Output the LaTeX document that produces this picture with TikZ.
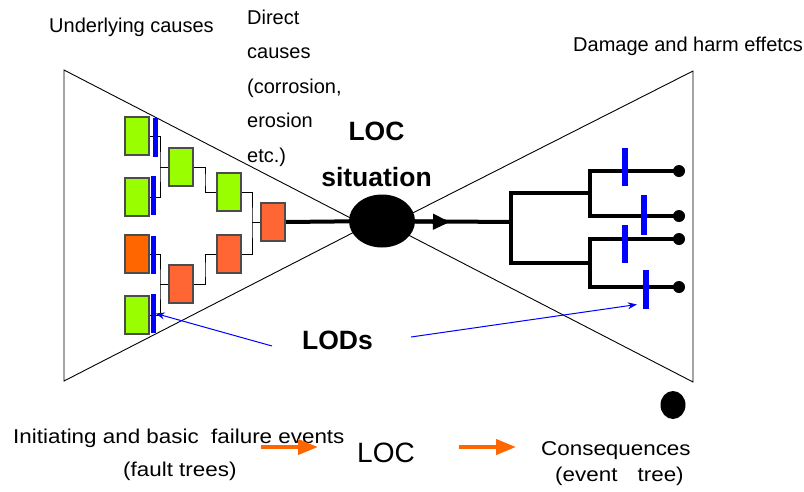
\documentclass[tikz,border=0pt]{standalone}
\usepackage{fontspec}
\setmainfont{Liberation Sans}
\usetikzlibrary{shapes.geometric,arrows.meta,backgrounds,calc}
\definecolor{leafgreen}{HTML}{99FF00}
\definecolor{hotorange}{HTML}{FF6600}
\definecolor{softorange}{HTML}{FF6633}
\definecolor{lodblue}{HTML}{0000FF}

\begin{document}
\begin{tikzpicture}[x=1pt,y=-1pt,
  evbox/.style={draw=black!70, line width=1.1pt, minimum width=24pt, minimum height=38pt, inner sep=0pt},
  lodbar/.style={fill=lodblue, inner sep=0pt, minimum width=5pt, minimum height=39pt},
  rbar/.style={fill=lodblue, inner sep=0pt, minimum width=6pt, minimum height=38pt},
  link/.style={line width=1pt},
  branch/.style={line width=4pt},
  endpt/.style={circle, fill=black, inner sep=0pt, minimum size=12pt},
  lodarrow/.style={draw=lodblue, line width=1pt, -{Stealth[length=9pt,width=7pt]}},
  stagearrow/.style={draw=hotorange, line width=4pt, -{Triangle[length=20pt,width=15pt]}},
  caption/.style={font=\fontsize{20}{24}\selectfont, inner sep=0pt},
  widecap/.style={font=\fontsize{20}{24}\selectfont, inner sep=0pt, xscale=1.12, transform shape}
]
\useasboundingbox (0,0) rectangle (804,491);

% central loss-of-containment event
\node[ellipse, fill=black, minimum width=66pt, minimum height=53pt, inner sep=0pt] (loc) at (382,221) {};

% fault tree events (left)
\node[evbox, fill=leafgreen]  (b1) at (137,136) {};
\node[evbox, fill=leafgreen]  (b2) at (137,197) {};
\node[evbox, fill=hotorange]  (b3) at (137,254) {};
\node[evbox, fill=leafgreen]  (b4) at (137,315) {};
\node[evbox, fill=leafgreen]  (b5) at (181,167) {};
\node[evbox, fill=leafgreen]  (b6) at (229,192) {};
\node[evbox, fill=softorange] (b7) at (181,284) {};
\node[evbox, fill=softorange] (b8) at (229,254) {};
\node[evbox, fill=softorange] (b9) at (273,222) {};

\coordinate (j1) at (160,167);
\coordinate (j2) at (160,284);
\coordinate (j3) at (205,180);
\coordinate (j4) at (205,270);
\coordinate (j5) at (252,222);

% event tree (right)
\coordinate (tip) at (450,222);
\coordinate (t0) at (511,222);
\coordinate (ua) at (590,193);
\coordinate (ub) at (590,263);
\node[endpt] (e1) at (679,171) {};
\node[endpt] (e2) at (679,216) {};
\node[endpt] (e3) at (679,239) {};
\node[endpt] (e4) at (679,287) {};

\begin{scope}[on background layer]
  % bow-tie outline
  \draw[line width=0.9pt] (64,70) -- (64,381) -- (366,226) -- cycle;
  \draw[line width=0.9pt] (693,71) -- (693,382) -- (389,225) -- cycle;
  % gate connections
  \draw[link] (b1.east) -| (j1) |- (b2.east);
  \draw[link] (j1) -- (b5.west);
  \draw[link] (b3.east) -| (j2) |- (b4.east);
  \draw[link] (j2) -- (b7.west);
  \draw[link] (b5.east) -| (j3) |- (b6.west);
  \draw[link] (b7.east) -| (j4) |- (b8.west);
  \draw[link] (b6.east) -| (j5) |- (b8.east);
  \draw[link] (j5) -- (b9.west);
  % main flow through the top event
  \draw[branch] (b9.east) -- (loc.center);
  \draw[branch] (loc.center) -- (t0);
  \draw[branch, -{Triangle[length=17pt,width=15pt]}] (loc.center) -- (tip);
  \draw[branch] (ua) -| (t0) |- (ub);
  \draw[branch] (e1.center) -| (ua) |- (e2.center);
  \draw[branch] (e3.center) -| (ub) |- (e4.center);
\end{scope}

% lines of defence
\node[lodbar] (l1) at (155,137) {};
\node[lodbar] (l2) at (153,195.5) {};
\node[lodbar, minimum height=38pt] (l3) at (153,255) {};
\node[lodbar] (l4) at (153,313.5) {};
\node[rbar] (r1) at (625,167) {};
\node[rbar, minimum height=40pt] (r2) at (644,215) {};
\node[rbar] (r3) at (625,244) {};
\node[rbar, minimum height=39pt] (r4) at (646,289.5) {};

% separate mark below the right side
\node[ellipse, fill=black, minimum width=25pt, minimum height=28pt, inner sep=0pt] (mark) at (673,405) {};

% labels
\node[caption, anchor=base west] (under) at (49,32) {Underlying causes};
\node[caption, anchor=north west, align=left, font=\fontsize{20}{34.5}\selectfont] (direct) at (247,9.6)
  {Direct\\causes\\(corrosion,\\erosion\\etc.)};
\node[anchor=north, align=center, inner sep=0pt, font=\fontsize{26.5}{46}\selectfont\bfseries] (loctxt) at (376.5,122)
  {LOC\\situation};
\node[caption, anchor=base west] (damage) at (573,51) {Damage and harm effetcs};
\node[anchor=base, inner sep=0pt, font=\fontsize{26.5}{30}\selectfont\bfseries] (lods) at (337.5,349) {LODs};

\coordinate (lodL) at (272,346);
\coordinate (lodR) at (411,337);
\draw[lodarrow] (lodL) -- (l4.east);
\draw[lodarrow] (lodR) -- ($(r4.west)+(-6,15)$);

% stages of the analysis
\node[widecap, anchor=base west] (init) at (13,443) {Initiating and basic\ \ failure events};
\node[widecap, anchor=base west] (fault) at (123,476) {(fault trees)};
\node[anchor=base west, inner sep=0pt, font=\fontsize{28}{32}\selectfont] (locbot) at (357,462) {LOC};
\node[widecap, anchor=base west] (cons) at (541,455) {Consequences};
\node[widecap, anchor=base west] (evt) at (555,481) {(event\hspace{0.9em}tree)};

\coordinate (a1s) at (261,447);
\coordinate (a1e) at (318,447);
\coordinate (a2s) at (459,447);
\coordinate (a2e) at (516,447);
\draw[stagearrow] (a1s) -- (a1e);
\draw[stagearrow] (a2s) -- (a2e);
\end{tikzpicture}
\end{document}
